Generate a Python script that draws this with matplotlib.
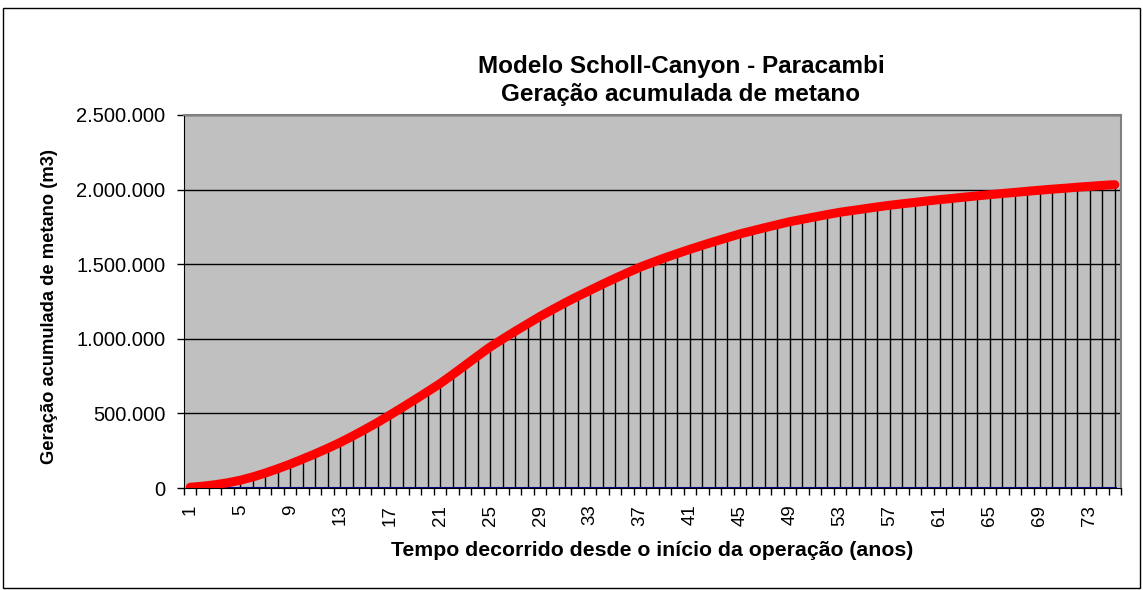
import matplotlib
matplotlib.use("Agg")
import matplotlib.pyplot as plt
from matplotlib.ticker import FuncFormatter, FixedLocator
from matplotlib.patches import Rectangle

years = list(range(1, 76))
cumulative_k = [
    5, 12, 22, 35, 52, 74, 100, 129, 160, 194,
    229, 266, 305, 348, 393, 440, 490, 541, 593, 646,
    700, 760, 822, 884, 945, 998, 1050, 1100, 1150, 1196,
    1241, 1284, 1325, 1366, 1405, 1443, 1480, 1512, 1543, 1572,
    1600, 1627, 1653, 1678, 1703, 1724, 1745, 1765, 1785, 1801,
    1817, 1833, 1848, 1860, 1872, 1884, 1895, 1905, 1914, 1924,
    1933, 1941, 1950, 1958, 1966, 1974, 1981, 1989, 1996, 2003,
    2009, 2016, 2022, 2028, 2033,
]
cumulative = [v * 1000 for v in cumulative_k]
zero_series = [0] * len(years)
label_years = list(range(1, 76, 4))
y_ticks = [0, 500000, 1000000, 1500000, 2000000, 2500000]

title_line1 = "Modelo Scholl-Canyon - Paracambi"
title_line2 = "Geração acumulada de metano"
xlabel = "Tempo decorrido desde o início da operação (anos)"
ylabel = "Geração acumulada de metano (m3)"

plt.rcParams['font.family'] = ['Liberation Sans', 'DejaVu Sans']

W, H = 1143, 590
fig = plt.figure(figsize=(W / 100, H / 100), dpi=100)
fig.patch.set_facecolor('white')

# outer chart border
fig.add_artist(Rectangle((3 / W, 2 / H), (W - 6) / W, (H - 10) / H,
                         transform=fig.transFigure, fill=False,
                         edgecolor='black', linewidth=1.0))

left, right, top, bottom = 184, 1121, 115, 488
ax = fig.add_axes([left / W, 1 - bottom / H, (right - left) / W, (bottom - top) / H])
ax.set_facecolor('#C0C0C0')

ax.set_xlim(0.5, 75.5)
ax.set_ylim(0, 2500000)

for yv in y_ticks[1:]:
    ax.axhline(yv, color='black', linewidth=1.0, zorder=1)

# drop lines
ax.vlines(years, 0, cumulative, colors='black', linewidth=1.0, zorder=2)
# zero series
ax.plot(years, zero_series, color='#000080', linewidth=2.2, zorder=3)
# main series
ax.plot(years, cumulative, color='#FF0000', linewidth=6.5, zorder=4,
        solid_capstyle='round', solid_joinstyle='round')

ax.yaxis.set_major_locator(FixedLocator(y_ticks))
ax.yaxis.set_major_formatter(FuncFormatter(lambda v, p: f"{int(v):,}".replace(',', '.')))
ax.tick_params(axis='y', direction='out', length=5, width=1, labelsize=14.5, pad=8.5)

ax.xaxis.set_major_locator(FixedLocator(label_years))
ax.set_xticklabels([str(v) for v in label_years], rotation=90)
ax.xaxis.set_minor_locator(FixedLocator([i + 0.5 for i in range(0, 76)]))
ax.tick_params(axis='x', which='major', length=0, labelsize=13.5, pad=12)
ax.tick_params(axis='x', which='minor', direction='out', length=5, width=1)

for s in ['top', 'right']:
    ax.spines[s].set_color('#808080')
    ax.spines[s].set_linewidth(1.5)
ax.spines['left'].set_color('black')
ax.spines['bottom'].set_color('black')

fig.text(681 / W, 1 - 67 / H, title_line1, ha='center', va='center',
         fontsize=17.5, fontweight='bold')
fig.text(681 / W, 1 - 95 / H, title_line2, ha='center', va='center',
         fontsize=17.5, fontweight='bold')
fig.text(652 / W, 1 - 551 / H, xlabel, ha='center', va='center',
         fontsize=15.3, fontweight='bold')
fig.text(50 / W, 1 - 307 / H, ylabel, ha='center', va='center',
         rotation=90, fontsize=13.2, fontweight='bold')

fig.savefig('out.png', dpi=100)
